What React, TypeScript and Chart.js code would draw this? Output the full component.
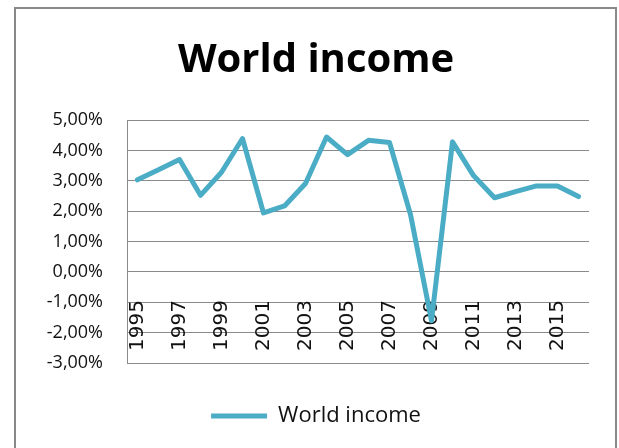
import React, { useEffect, useRef } from "react";
import { Chart, registerables } from "chart.js";

Chart.register(...registerables);

const years: string[] = [
  "1995", "1996", "1997", "1998", "1999", "2000", "2001", "2002", "2003", "2004", "2005",
  "2006", "2007", "2008", "2009", "2010", "2011", "2012", "2013", "2014", "2015", "2016",
];
const worldIncome: number[] = [
  3.03, 3.36, 3.7, 2.52, 3.28, 4.39, 1.94, 2.17, 2.91, 4.44, 3.86,
  4.33, 4.26, 1.89, -1.61, 4.28, 3.17, 2.44, 2.64, 2.83, 2.83, 2.48,
];
const seriesName = "World income";
const chartTitle = "World income";
const yMin = -3;
const yMax = 5;
const yStep = 1;

export default function App() {
  const canvasRef = useRef<HTMLCanvasElement | null>(null);

  useEffect(() => {
    if (!canvasRef.current) return;
    const chart = new Chart(canvasRef.current, {
      type: "line",
      data: {
        labels: years,
        datasets: [
          {
            label: seriesName,
            data: worldIncome,
            borderColor: "#4BACC6",
            backgroundColor: "#4BACC6",
            borderWidth: 5,
            borderCapStyle: "round",
            borderJoinStyle: "round",
            pointRadius: 0,
            tension: 0,
            fill: false,
          },
        ],
      },
      options: {
        responsive: false,
        animation: false,
        devicePixelRatio: 1,
        layout: { padding: { left: 43, right: 30, top: 0, bottom: 11 } },
        plugins: {
          title: {
            display: true,
            text: chartTitle,
            color: "#000",
            font: { family: "'Open Sans', sans-serif", size: 40, weight: "bold" },
            padding: { top: 37, bottom: 35 },
          },
          legend: {
            display: true,
            position: "bottom",
            title: {
              display: true,
              text: " ",
              font: { size: 10 },
              padding: { top: 20, bottom: 0 },
            },
            labels: {
              usePointStyle: true,
              pointStyle: "line",
              pointStyleWidth: 56,
              color: "#111",
              padding: 10,
              font: { family: "'Open Sans', sans-serif", size: 22 },
            },
          },
          tooltip: { enabled: false },
        },
        scales: {
          x: {
            type: "category",
            offset: true,
            position: { y: -0.93 } as any,
            grid: { display: false, drawTicks: false },
            border: { display: false },
            ticks: {
              autoSkip: false,
              maxRotation: 90,
              minRotation: 90,
              padding: 0,
              color: "#111",
              font: { family: "'DejaVu Sans', sans-serif", size: 20 },
              callback: function (this: any, value: any, index: number) {
                return index % 2 === 0 ? years[index] : null;
              },
            },
          },
          y: {
            min: yMin,
            max: yMax,
            afterFit: (scale: any) => {
              scale.width = 84;
            },
            grid: { color: "#8a8a8a", lineWidth: 1, drawTicks: false },
            border: { display: true, color: "#8a8a8a", width: 1 },
            ticks: {
              stepSize: yStep,
              padding: 24,
              color: "#111",
              font: { family: "'Open Sans', sans-serif", size: 18 },
              callback: (value: any) => Number(value).toFixed(2).replace(".", ",") + "%",
            },
          },
        },
      },
    });
    return () => chart.destroy();
  }, []);

  return (
    <div style={{ position: "fixed", left: 0, top: 0, width: 619, height: 448, background: "#fff", overflow: "hidden" }}>
      <canvas
        ref={canvasRef}
        width={619}
        height={448}
        style={{ position: "absolute", left: 0, top: 0, width: 619, height: 448 }}
      />
      <div
        style={{
          position: "absolute",
          left: 14,
          top: 7,
          width: 603,
          height: 470,
          border: "2px solid #898989",
          boxSizing: "border-box",
          pointerEvents: "none",
        }}
      />
    </div>
  );
}
